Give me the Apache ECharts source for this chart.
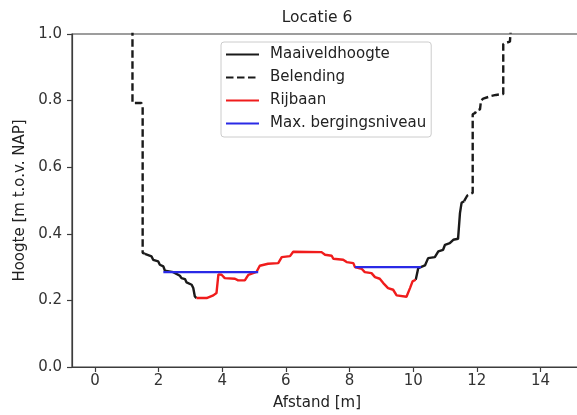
<!DOCTYPE html>
<html><head><meta charset="utf-8">
<script src="https://cdn.jsdelivr.net/npm/echarts@6/dist/echarts.min.js"></script>
<style>html,body{margin:0;padding:0;background:#fff}#c{width:577px;height:415px}</style>
</head><body><div id="c"></div>
<script>
const chartTitle = 'Locatie 6';
const xLabel = 'Afstand [m]';
const yLabel = 'Hoogte [m t.o.v. NAP]';
const xTicks = [0, 2, 4, 6, 8, 10, 12, 14];
const legendNames = ['Maaiveldhoogte', 'Belending', 'Rijbaan', 'Max. bergingsniveau'];

const belendingLinks = [[1.18,1.05],[1.18,0.793],[1.46,0.793],[1.5,0.785],[1.5,0.343],[1.57,0.34]];
const maaiveldLinks = [[1.57,0.34],[1.62,0.334],[1.78,0.332],[1.83,0.322],[1.99,0.317],[2.04,0.307],[2.15,0.302],[2.2,0.289],[2.46,0.285],[2.51,0.279],[2.67,0.274],[2.72,0.267],[2.83,0.264],[2.88,0.254],[3.04,0.247],[3.09,0.237],[3.14,0.212],[3.19,0.207]];
const rijbaan = [[3.19,0.207],[3.51,0.207],[3.56,0.213],[3.72,0.215],[3.82,0.222],[3.88,0.278],[3.98,0.277],[4.08,0.267],[4.4,0.265],[4.5,0.26],[4.71,0.26],[4.82,0.277],[4.97,0.282],[5.08,0.286],[5.18,0.304],[5.44,0.31],[5.76,0.312],[5.87,0.33],[6.13,0.333],[6.23,0.346],[7.12,0.345],[7.23,0.337],[7.44,0.334],[7.49,0.325],[7.8,0.322],[7.91,0.315],[8.12,0.312],[8.17,0.3],[8.38,0.295],[8.48,0.285],[8.69,0.282],[8.8,0.27],[8.95,0.265],[9.06,0.252],[9.21,0.237],[9.37,0.232],[9.48,0.215],[9.53,0.211],[9.79,0.211],[9.9,0.237],[9.98,0.257],[10.08,0.262]];
const maaiveldRechts = [[10.08,0.262],[10.16,0.297],[10.37,0.305],[10.47,0.327],[10.68,0.33],[10.79,0.347],[10.94,0.352],[11.0,0.367],[11.15,0.372],[11.26,0.382],[11.41,0.385],[11.47,0.462],[11.52,0.493],[11.6,0.498]];
const belendingRechts = [[11.6,0.498],[11.7,0.515],[11.87,0.523],[11.87,0.759],[11.95,0.763],[11.98,0.77],[12.1,0.774],[12.13,0.8],[12.2,0.806],[12.46,0.814],[12.6,0.817],[12.83,0.82],[12.83,0.97],[12.9,0.973],[13.04,0.977],[13.09,1.05]];
const bergingLinks = [[2.15,0.285],[5.13,0.285]];
const bergingRechts = [[8.17,0.30],[10.25,0.30]];

const FONT = 'DejaVu Sans';
const black = '#1a1a1a', red = '#f01c1c', blue = '#2a2ae6', spine = '#3c3c3c';

function line(name, data, color, dashed) {
  return {
    type: 'line', name: name, data: data, symbol: 'none', showSymbol: false,
    lineStyle: { color: color, width: 2.4, type: dashed ? [7.5, 3.5] : 'solid' },
    itemStyle: { color: color },
    animation: false, clip: true
  };
}

const chart = echarts.init(document.getElementById('c'), null, { renderer: 'canvas' });
chart.setOption({
  backgroundColor: '#fff',
  animation: false,
  title: [
    { text: chartTitle, left: 317, top: 10, textAlign: 'center', padding: 0,
      textStyle: { fontFamily: FONT, fontSize: 15.5, fontWeight: 'normal', color: '#222' } },
    { text: xLabel, left: 317, top: 396, textAlign: 'center', padding: 0,
      textStyle: { fontFamily: FONT, fontSize: 15, fontWeight: 'normal', color: '#222' } }
  ],
  legend: {
    data: legendNames,
    orient: 'vertical', left: 221, top: 42,
    padding: [5, 5, 6, 4],
    itemWidth: 33, itemHeight: 15, itemGap: 8,
    itemStyle: { opacity: 0, borderWidth: 0 },
    backgroundColor: '#fff', borderColor: '#cccccc', borderWidth: 1, borderRadius: 3,
    textStyle: { fontFamily: FONT, fontSize: 15, color: '#222', lineHeight: 15, padding: [0, 0, 0, 6] }
  },
  grid: { left: 72, top: 34, bottom: 48, right: -2, outerBoundsMode: 'none', containLabel: false,
          show: true, borderColor: spine, borderWidth: 1.2, backgroundColor: 'transparent' },
  xAxis: {
    type: 'value', min: -0.72, max: 15.21,
    splitLine: { show: false },
    axisLine: { show: true, onZero: false, lineStyle: { color: spine, width: 1.2 } },
    axisTick: { show: true, length: 5, customValues: xTicks, lineStyle: { color: spine, width: 1.2 } },
    axisLabel: { customValues: xTicks, margin: 7, fontFamily: FONT, fontSize: 15, color: '#333' }
  },
  yAxis: {
    type: 'value', min: 0, max: 1, interval: 0.2,
    name: yLabel, nameLocation: 'middle', nameGap: 44,
    nameTextStyle: { fontFamily: FONT, fontSize: 15, color: '#222' },
    splitLine: { show: false },
    axisLine: { show: true, onZero: false, lineStyle: { color: spine, width: 1.2 } },
    axisTick: { show: true, length: 5, lineStyle: { color: spine, width: 1.2 } },
    axisLabel: { margin: 10, fontFamily: FONT, fontSize: 15, color: '#333', formatter: v => v.toFixed(1) }
  },
  series: [
    line('Maaiveldhoogte', maaiveldLinks, black, false),
    line('Maaiveldhoogte', maaiveldRechts, black, false),
    line('Belending', belendingLinks, black, true),
    line('Belending', belendingRechts, black, true),
    line('Rijbaan', rijbaan, red, false),
    line('Max. bergingsniveau', bergingLinks, blue, false),
    line('Max. bergingsniveau', bergingRechts, blue, false)
  ]
});
</script>
</body></html>
